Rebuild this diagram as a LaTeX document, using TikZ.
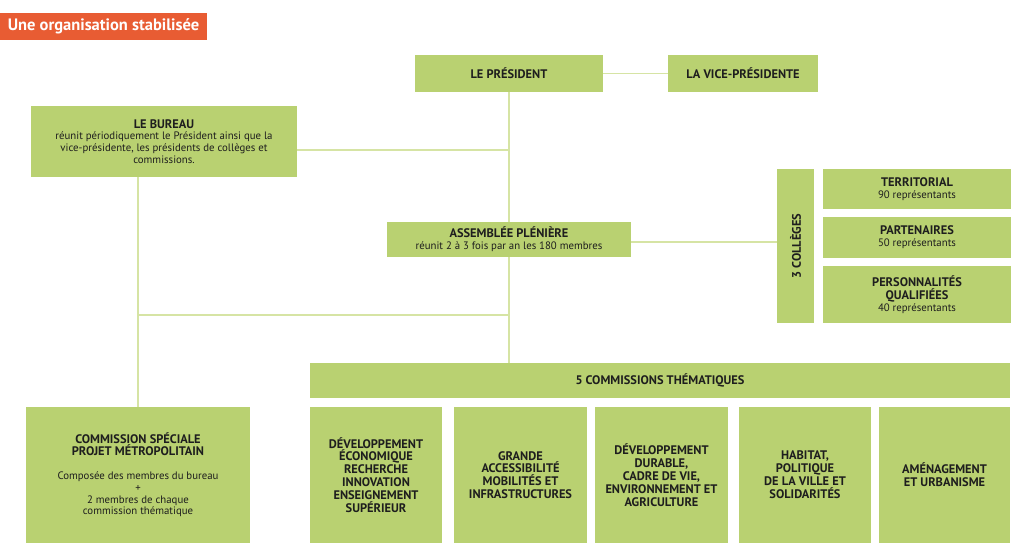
\documentclass[tikz,border=0pt]{standalone}
\usepackage{fontspec}
\setmainfont{PT Sans}
\usetikzlibrary{backgrounds}
\definecolor{boxgreen}{HTML}{B9D171}
\definecolor{linegreen}{HTML}{D6E4A4}
\definecolor{titleorange}{HTML}{E85C33}
\definecolor{txtc}{HTML}{1E1E1E}
\newcommand\HeadF{\fontsize{12.4}{12.9}\selectfont\bfseries}
\newcommand\BodyF{\fontsize{10.8}{11.8}\selectfont}
\tikzset{
  gbox/.style={fill=boxgreen, inner sep=2pt, align=center, text=txtc, font=\BodyF},
  hbox/.style={gbox, font=\HeadF},
  link/.style={draw=linegreen, line width=1.6pt},
}
\begin{document}
\begin{tikzpicture}[x=1pt,y=-1pt]
\begin{scope}[on background layer]
\fill[white] (0,0) rectangle (1024,555);
\end{scope}
\useasboundingbox (0,0) rectangle (1024,555);

% title
\node[fill=titleorange, text=white, font=\fontsize{16.5}{18}\selectfont\bfseries,
  minimum width=207pt, minimum height=27pt, inner sep=0pt] (title) at (103.5,26) {Une organisation stabilisée};

% nodes
\node[hbox, minimum width=188pt, minimum height=37pt] (pres) at (509,73.5) {LE PRÉSIDENT};
\node[hbox, minimum width=150pt, minimum height=37pt] (vice) at (743,73.5) {LA VICE-PRÉSIDENTE};
\node[gbox, minimum width=266pt, minimum height=71pt] (bureau) at (164,141.5)
  {{\HeadF LE BUREAU}\\réunit périodiquement le Président ainsi que la\\vice-présidente, les présidents de collèges et\\commissions.};
\node[gbox, minimum width=244pt, minimum height=35pt] (assemb) at (509,239.5)
  {{\HeadF ASSEMBLÉE PLÉNIÈRE}\\réunit 2 à 3 fois par an les 180 membres};
\node[hbox, minimum width=37pt, minimum height=154pt] (coll) at (795.5,246) {\rotatebox{90}{3 COLLÈGES}};
\node[gbox, minimum width=188pt, minimum height=40pt] (terr) at (917,189)
  {{\HeadF TERRITORIAL}\\90 représentants};
\node[gbox, minimum width=188pt, minimum height=41pt] (part) at (917,237.5)
  {{\HeadF PARTENAIRES}\\50 représentants};
\node[gbox, minimum width=188pt, minimum height=57pt] (pers) at (917,294.5)
  {{\HeadF PERSONNALITÉS}\\[1pt]{\HeadF QUALIFIÉES}\\40 représentants};
\node[hbox, minimum width=700pt, minimum height=35pt] (comm) at (660,380.5) {5 COMMISSIONS THÉMATIQUES};
\node[gbox, minimum width=224pt, minimum height=136pt] (spec) at (138,475)
  {{\HeadF COMMISSION SPÉCIALE}\\{\HeadF PROJET MÉTROPOLITAIN}\\[12pt]Composée des membres du bureau\\+\\2 membres de chaque\\commission thématique};
\node[hbox, minimum width=132pt, minimum height=136pt] (c1) at (376,475)
  {DÉVELOPPEMENT\\ÉCONOMIQUE\\RECHERCHE\\INNOVATION\\ENSEIGNEMENT\\SUPÉRIEUR};
\node[hbox, minimum width=133pt, minimum height=136pt] (c2) at (520.5,475)
  {GRANDE\\ACCESSIBILITÉ\\MOBILITÉS ET\\INFRASTRUCTURES};
\node[hbox, minimum width=133pt, minimum height=136pt] (c3) at (661.5,475)
  {DÉVELOPPEMENT\\DURABLE,\\CADRE DE VIE,\\ENVIRONNEMENT ET\\AGRICULTURE};
\node[hbox, minimum width=132pt, minimum height=136pt] (c4) at (805,475)
  {HABITAT,\\POLITIQUE\\DE LA VILLE ET\\SOLIDARITÉS};
\node[hbox, minimum width=131pt, minimum height=136pt] (c5) at (944.5,475)
  {AMÉNAGEMENT\\ET URBANISME};

% connectors
\coordinate (bj) at (509,150);
\coordinate (sj) at (509,315);
\coordinate (aj) at (700,242);
\begin{scope}[on background layer]
\draw[link] (pres.east) -- (vice.west);
\draw[link] (pres.south) -- (pres.south |- comm.north);
\draw[link] (bj -| bureau.east) -- (bj);
\draw[link] (aj -| assemb.east) -- (aj -| coll.west);
\draw[link] (bureau.south -| spec.north) -- (spec.north);
\draw[link] (sj -| spec.north) -- (sj);
\end{scope}
\end{tikzpicture}
\end{document}
